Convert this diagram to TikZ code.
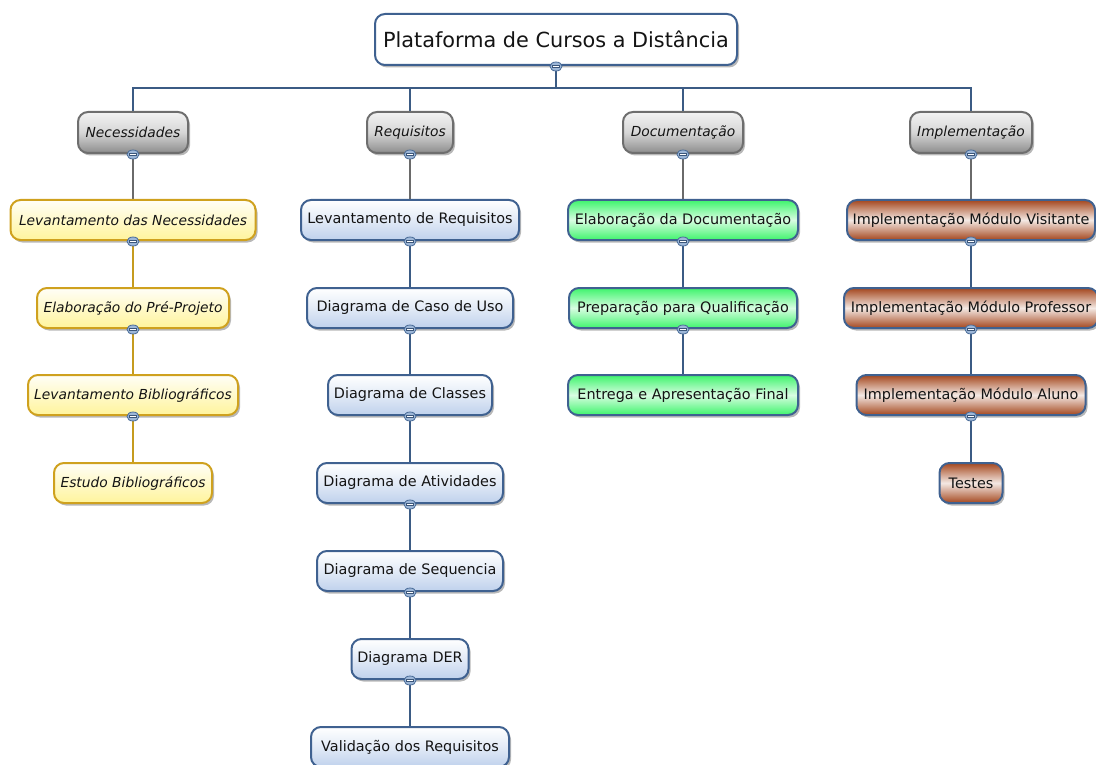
\documentclass[tikz,border=0pt]{standalone}
\usepackage{fontspec}
\setmainfont{DejaVu Sans}
\usetikzlibrary{shapes.geometric,shadows,backgrounds}

\definecolor{edgeblue}{HTML}{3F6190}
\definecolor{edgegrey}{HTML}{6E6E6E}
\definecolor{edgegold}{HTML}{CFA11E}
\definecolor{linegrey}{HTML}{6A6A6A}
\definecolor{linegold}{HTML}{C59B1F}
\definecolor{lineblue}{HTML}{3B5B84}
\definecolor{brownc}{HTML}{A4471E}
\definecolor{greenc}{HTML}{3EF46C}
\definecolor{bluec}{HTML}{BFD1EC}
\definecolor{yellowc}{HTML}{FFF49C}
\definecolor{togglefill}{HTML}{9DB7D8}
\definecolor{toggleedge}{HTML}{4A6C98}

\tikzset{
  box/.style={rounded corners=10pt, line width=2pt, minimum height=40pt,
    inner xsep=4pt, inner ysep=2pt, text=black!92,
    font=\fontsize{14.4}{17}\selectfont,
    drop shadow={shadow xshift=2pt, shadow yshift=-2.5pt, opacity=0.28, fill=black}},
  rootbox/.style={box, draw=edgeblue, fill=white, minimum height=51pt,
    font=\fontsize{20.8}{24}\selectfont},
  greybox/.style={box, draw=edgegrey, top color=white!95!black,
    bottom color=white!55!black, middle color=white!84!black,
    minimum height=41pt, font=\fontsize{13.8}{16}\selectfont\itshape},
  yellowbox/.style={box, draw=edgegold, top color=white!92!yellowc,
    bottom color=yellowc, font=\fontsize{13.8}{16}\selectfont\itshape},
  bluebox/.style={box, draw=edgeblue, top color=white, bottom color=bluec,
    middle color=white!55!bluec},
  greenbox/.style={box, draw=edgeblue, top color=greenc, bottom color=greenc,
    middle color=white!80!greenc},
  brownbox/.style={box, draw=edgeblue, top color=brownc, bottom color=brownc,
    middle color=white!88!brownc},
  bus/.style={draw=lineblue, line width=2pt},
  greyline/.style={draw=linegrey, line width=2.2pt},
  goldline/.style={draw=linegold, line width=2.2pt},
  blueline/.style={draw=lineblue, line width=2.2pt},
  toggle/.style={ellipse, draw=toggleedge, fill=togglefill, line width=0.8pt,
    minimum width=12pt, minimum height=9pt, inner sep=0pt,
    path picture={\draw[fill=white, draw=toggleedge!80!black, line width=0.5pt]
      ([xshift=-3.6pt, yshift=-1.2pt]path picture bounding box.center)
      rectangle ++(7.2pt, 2.4pt);}},
}

\begin{document}
\begin{tikzpicture}[x=1pt, y=-1pt]
\useasboundingbox (0,0) rectangle (1096,765);

% root and the four phases
\node[rootbox, minimum width=362pt] (root) at (556,39.5) {Plataforma de Cursos a Distância};
\node[greybox, minimum width=110pt] (nec) at (133,132.5) {Necessidades};
\node[greybox, minimum width=86pt]  (req) at (410,132.5) {Requisitos};
\node[greybox, minimum width=120pt] (doc) at (683,132.5) {Documentação};
\node[greybox, minimum width=122pt] (imp) at (971,132.5) {Implementação};

% Necessidades
\node[yellowbox, minimum width=245pt] (n1) at (133,220) {Levantamento das Necessidades};
\node[yellowbox, minimum width=192pt] (n2) at (133,308) {Elaboração do Pré-Projeto};
\node[yellowbox, minimum width=210pt] (n3) at (133,395) {Levantamento Bibliográficos};
\node[yellowbox, minimum width=158pt] (n4) at (133,483) {Estudo Bibliográficos};

% Requisitos
\node[bluebox, minimum width=218pt] (r1) at (410,220) {Levantamento de Requisitos};
\node[bluebox, minimum width=206pt] (r2) at (410,308) {Diagrama de Caso de Uso};
\node[bluebox, minimum width=164pt] (r3) at (410,395) {Diagrama de Classes};
\node[bluebox, minimum width=186pt] (r4) at (410,483) {Diagrama de Atividades};
\node[bluebox, minimum width=186pt] (r5) at (410,571) {Diagrama de Sequencia};
\node[bluebox, minimum width=117pt] (r6) at (410,659) {Diagrama DER};
\node[bluebox, minimum width=198pt] (r7) at (410,747) {Validação dos Requisitos};

% Documentação
\node[greenbox, minimum width=230pt] (d1) at (683,220) {Elaboração da Documentação};
\node[greenbox, minimum width=228pt] (d2) at (683,308) {Preparação para Qualificação};
\node[greenbox, minimum width=230pt] (d3) at (683,395) {Entrega e Apresentação Final};

% Implementação
\node[brownbox, minimum width=248pt] (i1) at (971,220) {Implementação Módulo Visitante};
\node[brownbox, minimum width=254pt] (i2) at (971,308) {Implementação Módulo Professor};
\node[brownbox, minimum width=229pt] (i3) at (971,395) {Implementação Módulo Aluno};
\node[brownbox, minimum width=63pt]  (i4) at (971,483) {Testes};

% connectors
\coordinate (hub) at (556,88);
\begin{scope}[on background layer]
  \draw[bus] (root) -- (hub);
  \draw[bus] (hub) -| (nec);
  \draw[bus] (hub) -| (req);
  \draw[bus] (hub) -| (doc);
  \draw[bus] (hub) -| (imp);
  \draw[greyline] (nec) -- (n1);
  \draw[greyline] (req) -- (r1);
  \draw[greyline] (doc) -- (d1);
  \draw[greyline] (imp) -- (i1);
  \draw[goldline] (n1) -- (n2);
  \draw[goldline] (n2) -- (n3);
  \draw[goldline] (n3) -- (n4);
  \draw[blueline] (r1) -- (r2);
  \draw[blueline] (r2) -- (r3);
  \draw[blueline] (r3) -- (r4);
  \draw[blueline] (r4) -- (r5);
  \draw[blueline] (r5) -- (r6);
  \draw[blueline] (r6) -- (r7);
  \draw[blueline] (d1) -- (d2);
  \draw[blueline] (d2) -- (d3);
  \draw[blueline] (i1) -- (i2);
  \draw[blueline] (i2) -- (i3);
  \draw[blueline] (i3) -- (i4);
\end{scope}

% collapse toggles under every node that has children
\foreach \n in {root,nec,req,doc,imp,n1,n2,n3,r1,r2,r3,r4,r5,r6,d1,d2,i1,i2,i3}
  \node[toggle] (t-\n) at ([yshift=-0.5pt]\n.south) {};
\end{tikzpicture}
\end{document}
